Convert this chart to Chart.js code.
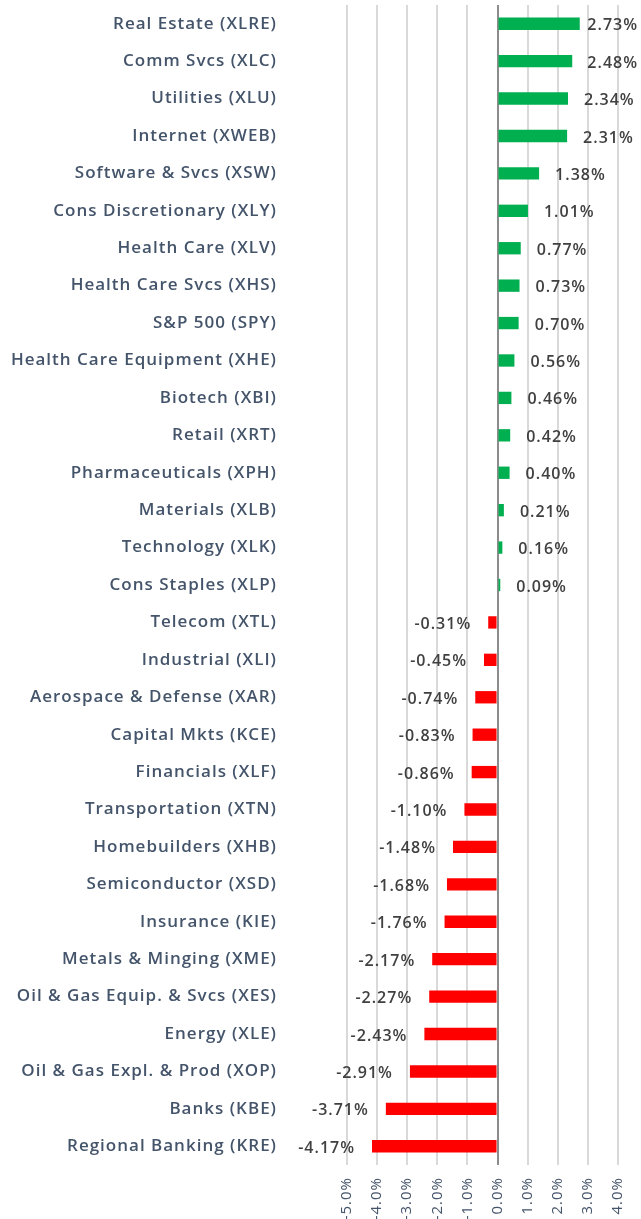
<!DOCTYPE html>
<html>
<head>
<meta charset="utf-8">
<title>Sector ETF performance</title>
<script src="https://cdn.jsdelivr.net/npm/chart.js@4.4.1/dist/chart.umd.min.js"></script>
<style>
  html, body { margin: 0; padding: 0; background: #ffffff; }
  #wrap { width: 641px; height: 1219px; position: relative; }
</style>
</head>
<body>
<div id="wrap"><canvas id="perf-chart"></canvas></div>
<script>
/* sector / industry ETF returns, horizontal bars */

const categories = [
  'Real Estate (XLRE)', 'Comm Svcs (XLC)', 'Utilities (XLU)', 'Internet (XWEB)',
  'Software & Svcs (XSW)', 'Cons Discretionary (XLY)', 'Health Care (XLV)',
  'Health Care Svcs (XHS)', 'S&P 500 (SPY)', 'Health Care Equipment (XHE)',
  'Biotech (XBI)', 'Retail (XRT)', 'Pharmaceuticals (XPH)', 'Materials (XLB)',
  'Technology (XLK)', 'Cons Staples (XLP)', 'Telecom (XTL)', 'Industrial (XLI)',
  'Aerospace & Defense (XAR)', 'Capital Mkts (KCE)', 'Financials (XLF)',
  'Transportation (XTN)', 'Homebuilders (XHB)', 'Semiconductor (XSD)',
  'Insurance (KIE)', 'Metals & Minging (XME)', 'Oil & Gas Equip. & Svcs (XES)',
  'Energy (XLE)', 'Oil & Gas Expl. & Prod (XOP)', 'Banks (KBE)',
  'Regional Banking (KRE)'
];

const returns = [
  2.73, 2.48, 2.34, 2.31, 1.38, 1.01, 0.77, 0.73, 0.70, 0.56, 0.46,
  0.42, 0.40, 0.21, 0.16, 0.09, -0.31, -0.45, -0.74, -0.83, -0.86,
  -1.10, -1.48, -1.68, -1.76, -2.17, -2.27, -2.43, -2.91, -3.71, -4.17
];

const xTicks = [-5, -4, -3, -2, -1, 0, 1, 2, 3, 4];

const GREEN = '#00b050';
const RED   = '#ff0000';
const FONT  = '"Open Sans", "Noto Sans", sans-serif';

// the original font is wide, so space the letters out a little
const spacing = {
  id: 'spacing',
  beforeDraw(chart) {
    chart.ctx.letterSpacing = '1px';
  }
};

// value labels just outside the bar end, kept inside the canvas
const valueLabels = {
  id: 'valueLabels',
  afterDatasetsDraw(chart) {
    const ctx  = chart.ctx;
    const meta = chart.getDatasetMeta(0);
    ctx.save();
    ctx.letterSpacing = '1px';
    ctx.font          = '600 16px ' + FONT;
    ctx.fillStyle     = '#404040';
    ctx.textBaseline  = 'middle';
    ctx.textAlign     = 'left';
    meta.data.forEach((bar, i) => {
      const v    = returns[i];
      const text = v.toFixed(2) + '%';
      const w    = ctx.measureText(text).width;
      let x;
      if (v >= 0) {
        x = Math.min(bar.x + 16, chart.width - 3 - w);
      } else {
        x = bar.x - 17 - w;
      }
      ctx.fillText(text, x, bar.y + 2);
    });
    ctx.restore();
  }
};

const ctx = document.getElementById('perf-chart').getContext('2d');

new Chart(ctx, {
  type: 'bar',
  data: {
    labels: categories,
    datasets: [{
      data:               returns,
      backgroundColor:    returns.map(v => v >= 0 ? GREEN : RED),
      borderWidth:        0,
      barPercentage:      0.33,
      categoryPercentage: 1.0,
    }],
  },
  options: {
    indexAxis:           'y',
    responsive:          true,
    maintainAspectRatio: false,
    animation:           false,
    layout: {
      padding: { top: 5, right: 23, left: 0, bottom: 0 },
    },
    plugins: {
      legend:  { display: false },
      tooltip: { enabled: false },
    },
    scales: {
      x: {
        min: -5,
        max: 4,
        afterBuildTicks: scale => {
          scale.ticks = xTicks.map(v => ({ value: v }));
        },
        afterFit: scale => {
          scale.height       = 54;
          scale.paddingLeft  = 0;
          scale.paddingRight = 0;
        },
        border: { display: false },
        grid: {
          drawTicks: false,
          lineWidth: 2,
          color: c => (c.tick && c.tick.value === 0) ? '#8c8c8c' : '#d9d9d9',
        },
        ticks: {
          minRotation: 90,
          maxRotation: 90,
          padding:     12,
          color:       '#44546a',
          font:        { family: FONT, size: 15 },
          callback:    v => v.toFixed(1) + '%',
        },
      },
      y: {
        afterFit: scale => {
          scale.width         = 347;
          scale.paddingTop    = 0;
          scale.paddingBottom = 0;
        },
        border: { display: false },
        grid:   { display: false, drawTicks: false },
        ticks: {
          padding:  70,
          color:    '#44546a',
          autoSkip: false,
          font:     { family: FONT, size: 17, weight: '600' },
        },
      },
    },
  },
  plugins: [spacing, valueLabels],
});
</script>
</body>
</html>
